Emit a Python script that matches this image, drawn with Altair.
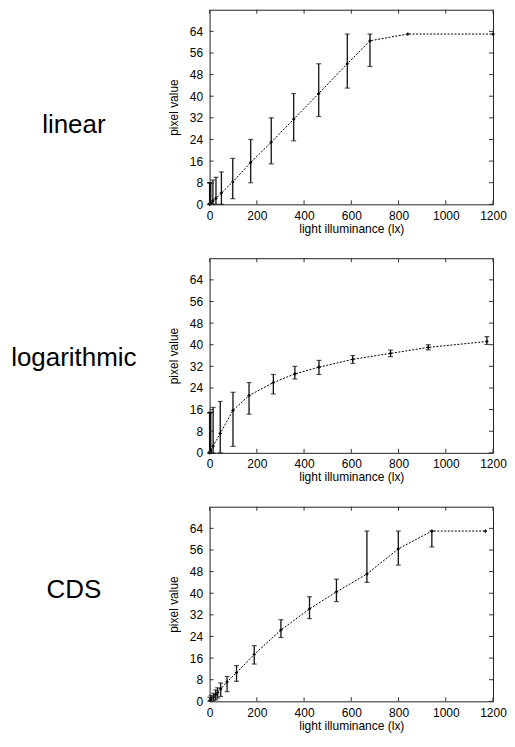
import altair as alt
import pandas as pd

# ---------------- data ----------------
LIN_X = [0, 1, 2, 3, 5, 14, 27, 50, 98, 174, 261, 356, 462, 583, 679, 839, 1200]
LIN_Y = [0, 0.2, 0.3, 0.5, 0.6, 1.3, 2.2, 4.2, 8.3, 15.5, 23, 31.5, 41, 52, 60.5, 63, 63]
LIN_LO = [0, 0, 0, 0, 0, 0, 0, 0, 2.1, 8, 15, 23.5, 32.5, 43, 51, None, None]
LIN_HI = [8, 8, 8, 8, 8, 9, 10, 12, 17, 24, 32, 41, 52, 63, 63, None, None]

LOG_X = [0, 1, 3, 5, 15, 45, 99, 167, 270, 361, 463, 606, 766, 926, 1174]
LOG_Y = [0, 0.3, 0.6, 1, 2.5, 7.2, 15.7, 21.2, 26, 29.2, 31.7, 34.6, 36.8, 39, 41.2]
LOG_LO = [0, 0, 0, 0, 0, 0, 2.4, 14.3, 21.8, 27.3, 29, 33.1, 35.6, 38.1, 40.1]
LOG_HI = [14.8, 14.8, 15, 15, 16.8, 19, 22.4, 26, 29, 32, 34.2, 36, 38, 40, 43]

CDS_X = [1, 7, 17, 26, 34, 47, 74, 114, 189, 302, 423, 537, 666, 799, 941, 1168]
CDS_Y = [0.4, 0.9, 1.6, 2.5, 3.2, 4.6, 7.2, 10.6, 17.4, 26.4, 34.2, 40.5, 47.1, 56.4, 63, 63]
CDS_LO = [0, 0, 0.3, 0.6, 1.2, 1.8, 3.6, 7.4, 13.8, 23.6, 30.6, 36.9, 44, 50.4, 57.1, None]
CDS_HI = [1.5, 2.2, 3, 4.2, 5, 6.8, 9.2, 13.2, 20.6, 30.2, 38.7, 45.2, 63, 63, 63, None]

LABELS = ["linear", "logarithmic", "CDS"]
LABEL_Y = [124, 108, 91]

X_TICKS = [0, 200, 400, 600, 800, 1000, 1200]
Y_TICKS = [0, 8, 16, 24, 32, 40, 48, 56, 64]

PW, PH = 284, 195
LW = 157
FONT = "Liberation Sans"


def panel(xs, ys, lo, hi):
    df = pd.DataFrame({"x": xs, "y": ys, "lo": lo, "hi": hi})
    xscale = alt.Scale(domain=[0, 1200], nice=False)
    yscale = alt.Scale(domain=[0, 72], nice=False)
    xaxis = alt.Axis(values=X_TICKS, title="light illuminance (lx)", grid=False, format="d",
                     labelFlush=False, labelOverlap=False,
                     ticks=False, domain=False, labelPadding=6, titlePadding=2)
    yaxis = alt.Axis(values=Y_TICKS, title="pixel value", grid=False, format="d",
                     labelFlush=False, labelOverlap=False,
                     ticks=False, domain=False, labelPadding=7, titlePadding=9)

    def X(f):
        return alt.X(f, scale=xscale, axis=xaxis)

    def Y(f):
        return alt.Y(f, scale=yscale, axis=yaxis)

    base = alt.Chart(df)
    line = base.mark_line(color="black", strokeWidth=1, strokeDash=[2, 1.5]).encode(
        x=X("x:Q"), y=Y("y:Q"))
    bars = base.mark_rule(color="#111", strokeWidth=1.3).encode(
        x=X("x:Q"), y=Y("lo:Q"), y2="hi:Q")
    cap_lo = base.mark_tick(color="#111", orient="horizontal", size=5, thickness=1.2).encode(
        x=X("x:Q"), y=Y("lo:Q"))
    cap_hi = base.mark_tick(color="#111", orient="horizontal", size=5, thickness=1.2).encode(
        x=X("x:Q"), y=Y("hi:Q"))
    pts = base.mark_point(shape="cross", size=10, filled=True, color="black", opacity=1).encode(
        x=X("x:Q"), y=Y("y:Q"))
    ydf = alt.Chart(pd.DataFrame({"v": Y_TICKS}))
    xdf = alt.Chart(pd.DataFrame({"v": X_TICKS}))
    tl = ydf.mark_rule(color="#333", strokeWidth=1).encode(
        y=Y("v:Q"), x=alt.value(0), x2=alt.value(4))
    tr = ydf.mark_rule(color="#333", strokeWidth=1).encode(
        y=Y("v:Q"), x=alt.value(PW - 4), x2=alt.value(PW))
    tb = xdf.mark_rule(color="#333", strokeWidth=1).encode(
        x=X("v:Q"), y=alt.value(PH - 4), y2=alt.value(PH))
    tt = xdf.mark_rule(color="#333", strokeWidth=1).encode(
        x=X("v:Q"), y=alt.value(0), y2=alt.value(4))
    return alt.layer(line, bars, cap_lo, cap_hi, pts, tl, tr, tb, tt).properties(
        width=PW, height=PH,
        view=alt.ViewBackground(stroke="#222", strokeWidth=1),
    )


def label_chart(text, ly):
    return alt.Chart(pd.DataFrame({"t": [text]})).mark_text(
        fontSize=26, font=FONT, align="center", baseline="alphabetic", color="black"
    ).encode(
        text="t:N", x=alt.value(65), y=alt.value(ly)
    ).properties(width=LW, height=PH, view=alt.ViewBackground(stroke="transparent"))


rows = []
for (xs, ys, lo, hi), lab, ly in zip(
    [(LIN_X, LIN_Y, LIN_LO, LIN_HI), (LOG_X, LOG_Y, LOG_LO, LOG_HI), (CDS_X, CDS_Y, CDS_LO, CDS_HI)],
    LABELS, LABEL_Y,
):
    rows.append(alt.hconcat(label_chart(lab, ly), panel(xs, ys, lo, hi), spacing=0))

chart = alt.vconcat(*rows, spacing=22).properties(padding=0).configure_axis(
    labelFont=FONT, labelFontSize=12, labelColor="black",
    titleFont=FONT, titleFontSize=12, titleColor="black", titleFontWeight="normal",
).configure_view(stroke=None)

chart.save("out.html", embed_options={"renderer": "svg", "actions": False})
